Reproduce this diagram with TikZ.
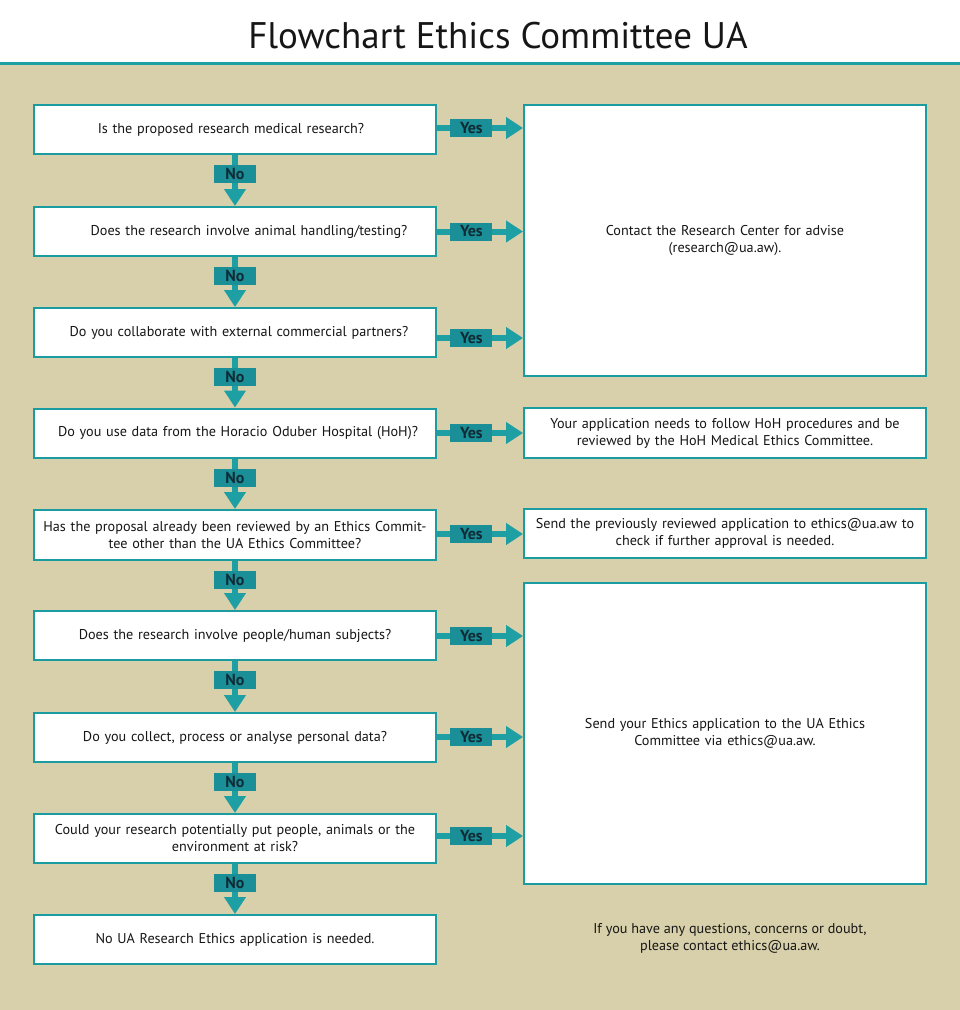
\documentclass[tikz,border=0pt]{standalone}
\usepackage{fontspec}
\setmainfont{PT Sans}
\usetikzlibrary{arrows.meta,calc}
\definecolor{beige}{HTML}{D8D0AA}
\definecolor{teal1}{HTML}{1E9FA3}
\definecolor{tealbox}{HTML}{1A9CA0}
\definecolor{teallab}{HTML}{1B8F97}
\definecolor{txt}{HTML}{161616}
\definecolor{labtxt}{HTML}{0F2C36}
\tikzset{
  qbox/.style={draw=tealbox, line width=2pt, fill=white, minimum width=402pt, minimum height=49pt, align=center, text width=395pt, font=\fontsize{14.2}{17}\selectfont, text=txt, inner sep=0pt},
  abox/.style={draw=tealbox, line width=2pt, fill=white, minimum width=402pt, align=center, text width=395pt, font=\fontsize{14.2}{17}\selectfont, text=txt, inner sep=0pt},
  flow/.style={draw=teal1, line width=6pt, -{Triangle[length=17pt,width=21pt]}},
  lab/.style={fill=teallab, text=labtxt, font=\fontsize{16}{16}\bfseries\selectfont, minimum width=42pt, minimum height=18pt, inner sep=0pt}
}
\begin{document}
\begin{tikzpicture}[x=1pt,y=-1pt]
\useasboundingbox (0,0) rectangle (960,1010);
\fill[white] (0,0) rectangle (960,63);
\fill[beige] (0,63) rectangle (960,1010);
\draw[teal1, line width=3pt] (0,63) -- (960,63);
\node[font=\fontsize{37}{40}\selectfont, text=txt] (title) at (498,36) {Flowchart Ethics Committee UA};

% question boxes
\node[qbox] (q1) at (235,129.5) {Is the proposed research medical research?\hspace*{8pt}};
\node[qbox] (q2) at (235,231.5) {\hspace*{28pt}Does the research involve animal handling/testing?};
\node[qbox] (q3) at (235,332.5) {\hspace*{8pt}Do you collaborate with external commercial partners?};
\node[qbox] (q4) at (235,433) {\hspace*{6pt}Do you use data from the Horacio Oduber Hospital (HoH)?};
\node[qbox, minimum height=50pt] (q5) at (235,535) {Has the proposal already been reviewed by an Ethics Commit-\\tee other than the UA Ethics Committee?};
\node[qbox] (q6) at (235,635.5) {Does the research involve people/human subjects?};
\node[qbox] (q7) at (235,737.5) {Do you collect, process or analyse personal data?};
\node[qbox] (q8) at (235,838.5) {Could your research potentially put people, animals or the\\environment at risk?};
\node[qbox] (q9) at (235,939.5) {No UA Research Ethics application is needed.};

% answer boxes
\node[abox, minimum height=271pt] (r1) at (725,240.5) {Contact the Research Center for advise\\(research@ua.aw).};
\node[abox, minimum height=50pt] (r2) at (725,433) {Your application needs to follow HoH procedures and be\\reviewed by the HoH Medical Ethics Committee.};
\node[abox, minimum height=49pt] (r3) at (725,533.5) {Send the previously reviewed application to ethics@ua.aw to\\check if further approval is needed.};
\node[abox, minimum height=301pt] (r4) at (725,733.5) {Send your Ethics application to the UA Ethics\\Committee via ethics@ua.aw.};

\node[font=\fontsize{14.2}{17}\selectfont, text=txt, align=center] (note) at (730,938.5) {If you have any questions, concerns or doubt,\\please contact ethics@ua.aw.};

% No arrows
\foreach \a/\b in {q1/q2,q2/q3,q3/q4,q4/q5,q5/q6,q6/q7,q7/q8,q8/q9}{
  \draw[flow] (\a.south) -- (\b.north) node[lab, pos=0.38] {No};
}
% Yes arrows
\foreach \a/\b/\dy in {q1/r1/-1.5,q2/r1/0,q3/r1/5.5,q4/r2/0,q5/r3/-1,q6/r4/0.5,q7/r4/-0.5,q8/r4/-2.5}{
  \draw[flow] ($(\a.east)+(0,\dy)$) -- ($(\a.east -| \b.west)+(0,\dy)$) node[lab, pos=0.40] {Yes};
}
\end{tikzpicture}
\end{document}
